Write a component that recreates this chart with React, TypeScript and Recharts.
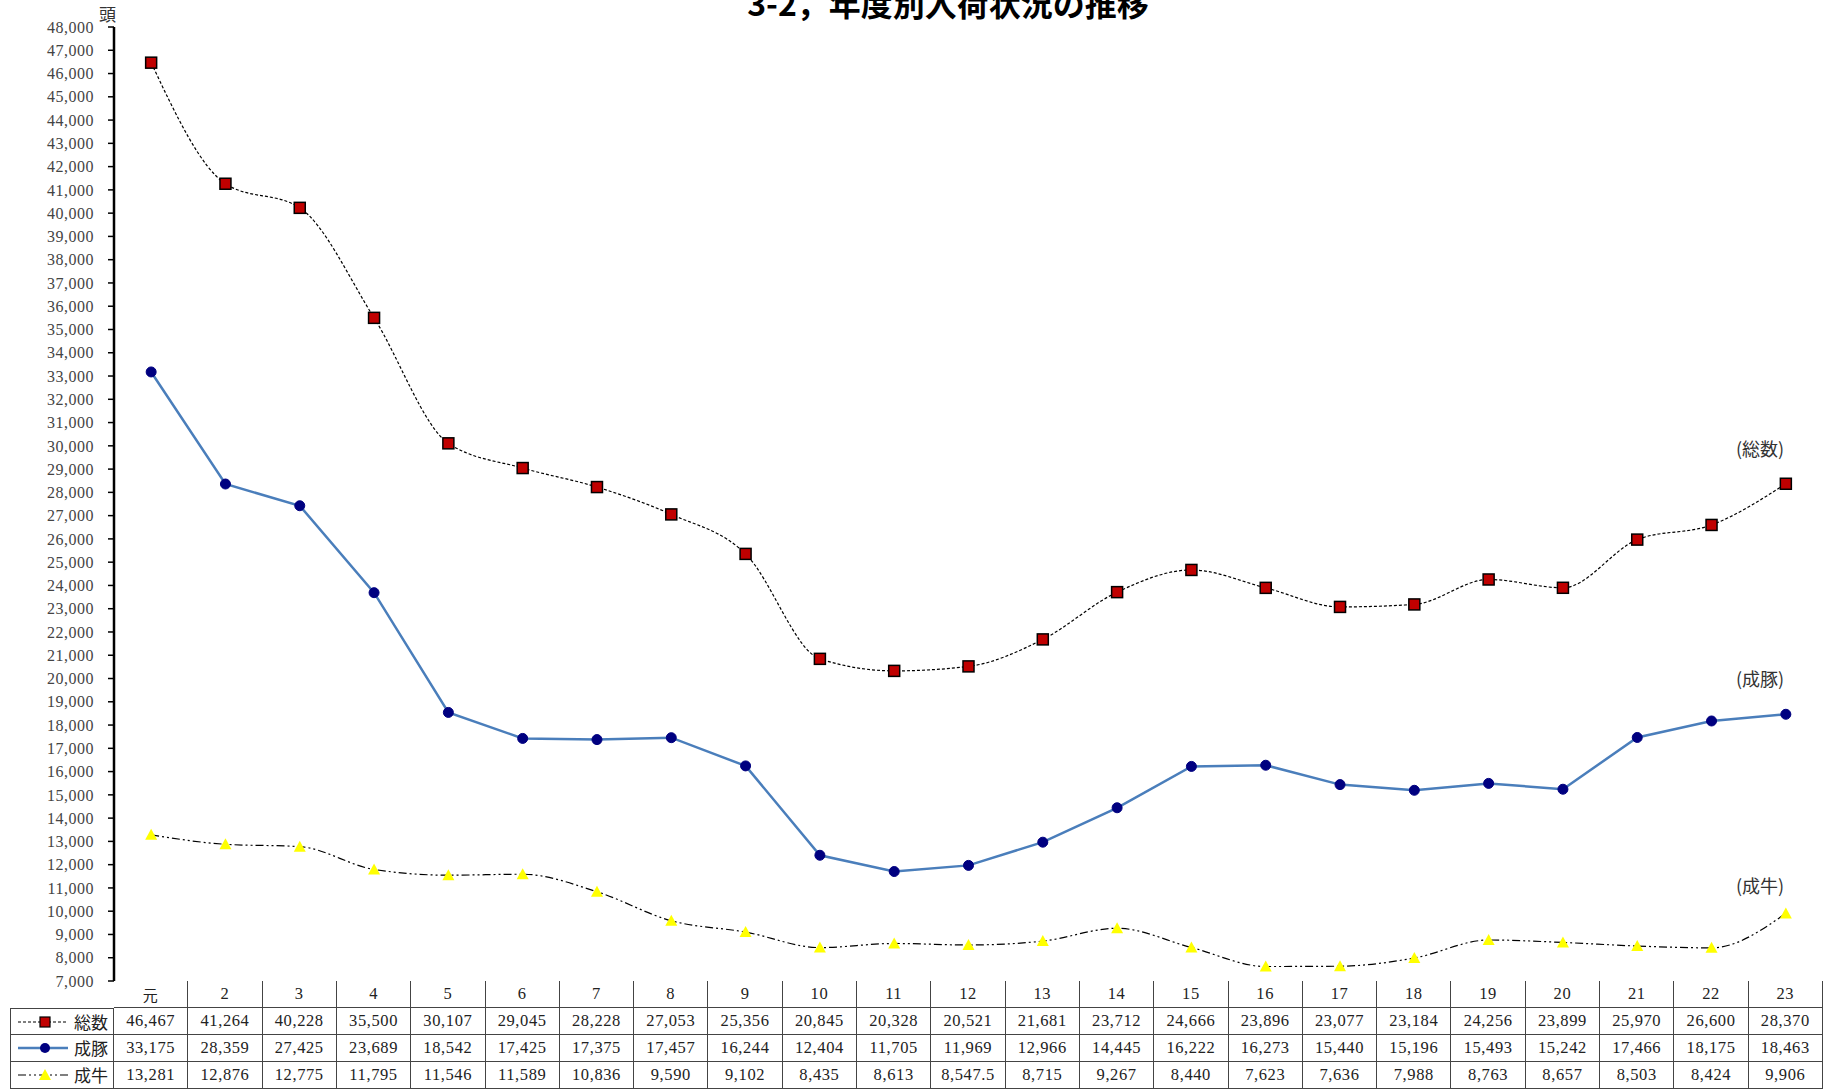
import React from "react";
import { LineChart, Line, XAxis, YAxis } from "recharts";

const years = ["元", "2", "3", "4", "5", "6", "7", "8", "9", "10", "11", "12", "13", "14", "15", "16", "17", "18", "19", "20", "21", "22", "23"];
const total = [46467, 41264, 40228, 35500, 30107, 29045, 28228, 27053, 25356, 20845, 20328, 20521, 21681, 23712, 24666, 23896, 23077, 23184, 24256, 23899, 25970, 26600, 28370];
const pigs = [33175, 28359, 27425, 23689, 18542, 17425, 17375, 17457, 16244, 12404, 11705, 11969, 12966, 14445, 16222, 16273, 15440, 15196, 15493, 15242, 17466, 18175, 18463];
const cattle = [13281, 12876, 12775, 11795, 11546, 11589, 10836, 9590, 9102, 8435, 8613, 8547.5, 8715, 9267, 8440, 7623, 7636, 7988, 8763, 8657, 8503, 8424, 9906];
const yTicks = Array.from({ length: 42 }, (_, i) => 7000 + i * 1000);

const data = years.map((y, i) => ({ year: y, total: total[i], pigs: pigs[i], cattle: cattle[i] }));

const W = 1827;
const plotLeft = 114;
const plotRight = 1823;
const plotTop = 27;
const plotBottom = 981;
const colW = (plotRight - plotLeft) / years.length;
const rowH = 27;

const serif = '"Liberation Serif", "Noto Sans CJK JP", serif';
const cjk = '"Noto Sans CJK JP", sans-serif';

const fmt = (v: number) => v.toLocaleString("en-US", { maximumFractionDigits: 1 });

const SquareDot = (p: any) => (
  <rect key={p.index} x={p.cx - 5.5} y={p.cy - 5.5} width={11} height={11} fill="#c00000" stroke="#000" strokeWidth={1.5} />
);
const CircleDot = (p: any) => <circle key={p.index} cx={p.cx} cy={p.cy} r={5} fill="#000080" stroke="#000080" />;
const TriDot = (p: any) => (
  <polygon key={p.index} points={`${p.cx},${p.cy - 6} ${p.cx + 6},${p.cy + 5} ${p.cx - 6},${p.cy + 5}`} fill="#ffff00" />
);

const rows = [
  { name: "総数", values: total, kind: "total" },
  { name: "成豚", values: pigs, kind: "pigs" },
  { name: "成牛", values: cattle, kind: "cattle" },
];

function LegendKey({ kind }: { kind: string }) {
  return (
    <svg width={62} height={rowH} style={{ position: "absolute", left: 2, top: 0 }}>
      {kind === "total" && (
        <>
          <line x1={5} x2={55} y1={13} y2={13} stroke="#000" strokeWidth={1.2} strokeDasharray="3 2" />
          <rect x={27} y={8} width={10} height={10} fill="#c00000" stroke="#000" strokeWidth={1.2} />
        </>
      )}
      {kind === "pigs" && (
        <>
          <line x1={5} x2={55} y1={13} y2={13} stroke="#4a7ebb" strokeWidth={2.5} />
          <circle cx={32} cy={13} r={5} fill="#000080" />
        </>
      )}
      {kind === "cattle" && (
        <>
          <line x1={5} x2={55} y1={13} y2={13} stroke="#000" strokeWidth={1.2} strokeDasharray="8 3 2 3 2 3" />
          <polygon points="32,7 38,18 26,18" fill="#ffff00" />
        </>
      )}
    </svg>
  );
}

const sideLabel: React.CSSProperties = { position: "absolute", left: 1736, fontFamily: cjk, fontSize: 18, color: "#333" };

export default function App() {
  const cellBase: React.CSSProperties = {
    position: "absolute",
    height: rowH,
    width: colW,
    boxSizing: "border-box",
    display: "flex",
    alignItems: "center",
    justifyContent: "center",
    fontFamily: serif,
    fontSize: 16.5,
    letterSpacing: 0.6,
    color: "#222",
  };
  return (
    <div style={{ position: "absolute", left: 0, top: 0, width: W, height: 1090, background: "#fff", overflow: "hidden" }}>
      <div
        style={{
          position: "absolute",
          left: 0,
          width: 1896,
          top: -14,
          textAlign: "center",
          fontFamily: cjk,
          fontWeight: 700,
          fontSize: 32,
          lineHeight: "32px",
          color: "#000",
        }}
      >
        3-2，年度別入荷状況の推移
      </div>
      <div style={{ position: "absolute", left: 99, top: 1, fontFamily: cjk, fontSize: 17, color: "#333" }}>頭</div>

      <LineChart width={W} height={990} data={data} margin={{ top: plotTop, right: W - plotRight, left: 0, bottom: 990 - plotBottom }}>
        <XAxis
          dataKey="year"
          tick={false}
          tickLine={false}
          height={0}
          axisLine={{ stroke: "#000", strokeWidth: 2.5 }}
          padding={{ left: colW / 2, right: colW / 2 }}
        />
        <YAxis
          width={plotLeft}
          domain={[7000, 48000]}
          ticks={yTicks}
          interval={0}
          tickFormatter={(v: number) => v.toLocaleString("en-US")}
          tick={{ fontFamily: serif, fontSize: 16, fill: "#444", letterSpacing: 0.5 }}
          tickSize={6}
          tickMargin={14}
          tickLine={{ stroke: "#000", strokeWidth: 1.5 }}
          axisLine={{ stroke: "#000", strokeWidth: 2.5 }}
          allowDataOverflow
        />
        <Line
          dataKey="total"
          type="monotone"
          stroke="#000"
          strokeWidth={1.2}
          strokeDasharray="3 2"
          dot={SquareDot}
          isAnimationActive={false}
        />
        <Line dataKey="pigs" type="linear" stroke="#4a7ebb" strokeWidth={2.5} dot={CircleDot} isAnimationActive={false} />
        <Line
          dataKey="cattle"
          type="monotone"
          stroke="#000"
          strokeWidth={1.2}
          strokeDasharray="8 3 2 3 2 3"
          dot={TriDot}
          isAnimationActive={false}
        />
      </LineChart>

      <div style={{ ...sideLabel, top: 435 }}>(総数)</div>
      <div style={{ ...sideLabel, top: 665 }}>(成豚)</div>
      <div style={{ ...sideLabel, top: 872 }}>(成牛)</div>

      {/* data table */}
      {years.map((y, i) => (
        <div
          key={"h" + i}
          style={{
            ...cellBase,
            left: plotLeft + i * colW,
            top: plotBottom,
            borderRight: "1.5px solid #444",
            borderBottom: "1.5px solid #444",
            fontFamily: y === "元" ? cjk : serif,
            fontSize: y === "元" ? 15 : 16.5,
          }}
        >
          {y}
        </div>
      ))}
      {rows.map((r, ri) => (
        <React.Fragment key={r.name}>
          <div
            style={{
              position: "absolute",
              left: 10,
              top: plotBottom + rowH * (ri + 1),
              width: plotLeft - 10,
              height: rowH,
              boxSizing: "border-box",
              borderLeft: "1.5px solid #444",
              borderRight: "1.5px solid #444",
              borderBottom: "1.5px solid #444",
              borderTop: ri === 0 ? "1.5px solid #444" : undefined,
            }}
          >
            <LegendKey kind={r.kind} />
            <span style={{ position: "absolute", right: 5, top: 1, fontFamily: cjk, fontSize: 17, lineHeight: "24px", color: "#222" }}>
              {r.name}
            </span>
          </div>
          {r.values.map((v, i) => (
            <div
              key={i}
              style={{
                ...cellBase,
                left: plotLeft + i * colW,
                top: plotBottom + rowH * (ri + 1),
                borderRight: "1.5px solid #444",
                borderBottom: "1.5px solid #444",
              }}
            >
              {fmt(v)}
            </div>
          ))}
        </React.Fragment>
      ))}
    </div>
  );
}
